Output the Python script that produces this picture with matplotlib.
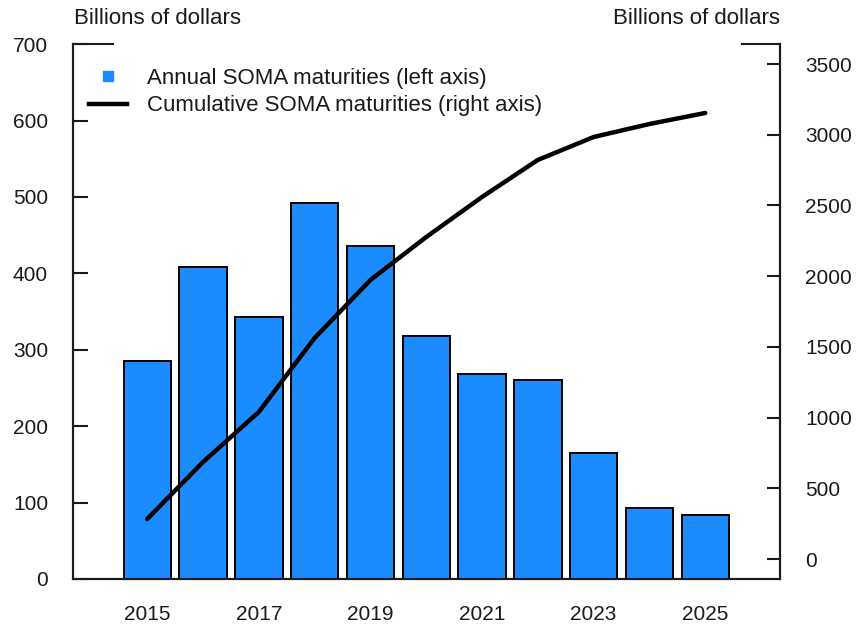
import matplotlib
matplotlib.use("Agg")
import matplotlib.pyplot as plt
from matplotlib.lines import Line2D

plt.rcParams['font.family'] = ['Liberation Sans', 'DejaVu Sans']

years = [2015, 2016, 2017, 2018, 2019, 2020, 2021, 2022, 2023, 2024, 2025]
annual = [285, 408, 343, 492, 436, 318, 268, 260, 165, 93, 84]
cumulative = [283, 686, 1040, 1563, 1973, 2277, 2560, 2822, 2984, 3076, 3154]
xlabels = ["2015", "2017", "2019", "2021", "2023", "2025"]
left_ticks = [0, 100, 200, 300, 400, 500, 600, 700]
right_ticks = [0, 500, 1000, 1500, 2000, 2500, 3000, 3500]

blue = "#1a8cff"
ink = "#1a1a1a"

fig = plt.figure(figsize=(8.6, 6.3), dpi=100)
ax = fig.add_axes([0.0849, 0.081, 0.8221, 0.849])
ax2 = ax.twinx()

ax.bar(years, annual, width=0.85, color=blue, edgecolor="black", linewidth=1.4, zorder=2)
ax2.plot(years, cumulative, color="black", lw=3.2, solid_capstyle="round", zorder=3)

ax.set_xlim(2013.67, 2026.34)
ax.set_ylim(0, 700)
ax2.set_ylim(-141, 3641)

ax.set_xticks([int(s) for s in xlabels])
ax.set_xticklabels(xlabels)
ax.set_yticks(left_ticks)
ax2.set_yticks(right_ticks)

for a in (ax, ax2):
    for s in a.spines.values():
        s.set_linewidth(1.5)
        s.set_color(ink)
    a.spines["top"].set_visible(False)

ax.tick_params(axis="x", length=0, pad=19, labelsize=15, colors=ink)
ax.tick_params(axis="y", direction="in", length=11, width=1.5, pad=18, labelsize=15, colors=ink)
ax2.tick_params(axis="y", direction="in", length=9.5, width=1.5, pad=18, labelsize=15, colors=ink)

# short caps at the top of each spine
ax.plot([0, 0.0566], [1, 1], transform=ax.transAxes, color=ink, lw=1.5, clip_on=False)
ax.plot([0.946, 1], [1, 1], transform=ax.transAxes, color=ink, lw=1.5, clip_on=False)

fig.text(0.086, 0.971, "Billions of dollars", fontsize=16, color=ink, ha="left", va="center")
fig.text(0.907, 0.971, "Billions of dollars", fontsize=16, color=ink, ha="right", va="center")

handles = [
    Line2D([], [], marker="s", linestyle="none", markersize=7, color=blue),
    Line2D([], [], color="black", lw=3.2),
]
labels = ["Annual SOMA maturities (left axis)", "Cumulative SOMA maturities (right axis)"]
ax2.legend(handles, labels, loc="upper left", bbox_to_anchor=(0.0, 0.985), frameon=False,
           fontsize=16, handlelength=1.75, handletextpad=0.9, labelspacing=0.3,
           borderaxespad=0.3, labelcolor=ink)

fig.savefig("out.png", dpi=100)
